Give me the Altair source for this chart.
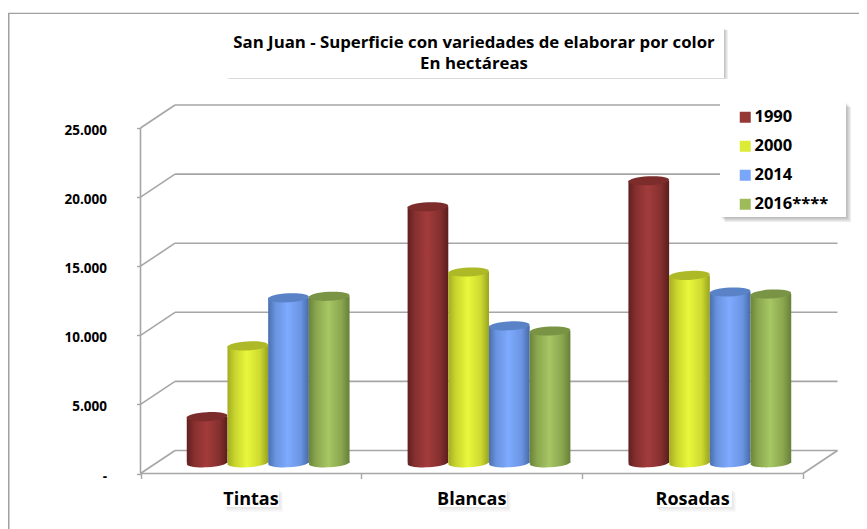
import math
import altair as alt
import pandas as pd

categories = ["Tintas", "Blancas", "Rosadas"]
years = ["1990", "2000", "2014", "2016****"]
v1990 = [3280, 18470, 20350]
v2000 = [8400, 13750, 13500]
v2014 = [11880, 9850, 12300]
v2016 = [11990, 9480, 12150]
grid_values = [0, 5000, 10000, 15000, 20000, 25000]
flat_colors = ["#953735", "#DCEB36", "#7AA6FA", "#9EBB59"]
top_colors = ["#7b2c2b", "#aeb927", "#5a83c7", "#7a9445"]
shades = [
    ["#5f1f1e", "#85302f", "#a33b3b", "#85302f", "#5a1d1c"],
    ["#a3ad22", "#c8d42e", "#e8f83b", "#cdd930", "#98a31f"],
    ["#4a6fae", "#6a94e0", "#7eaaff", "#6b95e2", "#476aa8"],
    ["#6b8439", "#8aa64e", "#a6c764", "#8aa64e", "#66803a"],
]

W, H = 851, 516
FONT = "Open Sans"
GRAY = "#a6a6a6"
K = 0.01382
DEPTH_X = 34.5 / 220.83
DEPTH_V = 23 / K
MID_X, MID_V = DEPTH_X / 2, DEPTH_V / 2
BAR = 40.7 / 220.83

xs = alt.Scale(domain=[(8 - 140.5) / 220.83, (859 - 140.5) / 220.83], range=[0, W], nice=False, zero=False)
ys = alt.Scale(domain=[(473.5 - 529) / K, (473.5 - 13) / K], range=[H, 0], nice=False, zero=False)
x_axis = alt.Axis(values=[0, 1, 2, 3], labels=False, domain=False, grid=False, ticks=True, tickSize=5,
                  tickColor=GRAY, tickWidth=1.4, offset=-55.5, title=None)
y_axis = alt.Axis(values=grid_values, domain=False, grid=False, ticks=True, tickSize=4, tickColor=GRAY,
                  tickWidth=1.4, offset=-132.5, labelPadding=30, labelFont=FONT, labelFontWeight="bold",
                  labelFontSize=13.5, labelColor="#000000", labelOffset=2.5,
                  labelExpr="datum.value === 0 ? '-' : replace(format(datum.value, ','), ',', '.')", title=None)
X = lambda f: alt.X(f, type="quantitative", scale=xs, axis=x_axis, title=None)
Y = lambda f: alt.Y(f, type="quantitative", scale=ys, axis=y_axis, title=None)


def ellipse_path(ratio=0.22, tilt=3.0):
    a = math.radians(-tilt)
    def p(x, y):
        y = y * ratio
        return f"{x*math.cos(a)-y*math.sin(a):.4f},{x*math.sin(a)+y*math.cos(a):.4f}"
    c = 0.5523
    return (f"M{p(-1,0)} C{p(-1,c)} {p(-c,1)} {p(0,1)} C{p(c,1)} {p(1,c)} {p(1,0)} "
            f"C{p(1,-c)} {p(c,-1)} {p(0,-1)} C{p(-c,-1)} {p(-1,-c)} {p(-1,0)} Z")


PATH = ellipse_path()
ONE = pd.DataFrame({"a": [0]})


def rect(x0, y0, x1, y1, color, opacity=1.0):
    return alt.Chart(ONE).mark_rect(color=color, opacity=opacity).encode(
        x=alt.value(x0 - 8), x2=alt.value(x1 - 8), y=alt.value(y0 - 13), y2=alt.value(y1 - 13))


def box(x0, y0, x1, y1, dx, dy, strength=0.07):
    out = []
    for s in (1.0, 0.75, 0.5, 0.25):
        out.append(rect(x0 + dx * s, y0 + dy * s, x1 + dx * s, y1 + dy * s, "#000000", strength))
    out.append(rect(x0, y0, x1, y1, "#ffffff"))
    return out


layers = []
# frame
layers.append(rect(8, 13, 9.5, 529, "#a0a0a0"))
layers.append(rect(8, 12.7, 859, 14, "#a0a0a0"))

grid = pd.DataFrame({"v": grid_values})
grid = grid.assign(vb=grid.v + DEPTH_V, x0=0.0, x1=DEPTH_X, x2=3 + DEPTH_X)
line = dict(color=GRAY, strokeWidth=1.6)
layers.append(alt.Chart(grid).mark_rule(**line).encode(
    x=X("x1"), x2="x2", y=Y("vb")))
layers.append(alt.Chart(grid).mark_rule(**line).encode(
    x=X("x0"), x2="x1", y=Y("v"), y2="vb"))
layers.append(alt.Chart(pd.DataFrame({"x": [0.0], "a": [0], "b": [25000]})).mark_rule(**line).encode(
    x=X("x"), y=Y("a"), y2="b"))
layers.append(alt.Chart(pd.DataFrame({"x": [0.0], "x2": [3.0], "a": [0]})).mark_rule(**line).encode(
    x=X("x"), x2="x2", y=Y("a")))
layers.append(alt.Chart(pd.DataFrame({"x": [3.0], "x2": [3 + DEPTH_X], "a": [0], "b": [DEPTH_V]})).mark_rule(**line).encode(
    x=X("x"), x2="x2", y=Y("a"), y2="b"))

# white panels behind title, legend and category names
layers += box(225, 29, 724, 78, 4, 1, 0.06)
layers += box(720, 102, 846, 217, 5, 5, 0.07)
layers += box(223, 488, 279, 507, 4, 5, 0.025)
layers += box(436, 488, 507, 507, 4, 5, 0.025)
layers += box(655, 488, 732, 507, 4, 5, 0.025)

# cylinders
series = [v1990, v2000, v2014, v2016]
for g, cat in enumerate(categories):
    for s, year in enumerate(years):
        center = g + 0.5 + MID_X + (s - 1.5) * BAR
        d = pd.DataFrame({"c": [center], "l": [center - BAR / 2], "r": [center + BAR / 2],
                          "base": [MID_V - 60], "top": [series[s][g] + MID_V],
                          "value": [series[s][g]], "year": [year], "cat": [cat]})
        stops = [alt.GradientStop(offset=o, color=c) for o, c in zip([0, 0.18, 0.48, 0.8, 1], shades[s])]
        grad = alt.Gradient(gradient="linear", stops=stops, x1=0, x2=1, y1=0, y2=0)
        size = 40.7 ** 2
        layers.append(alt.Chart(d).mark_point(shape=PATH, size=size, filled=True, fill=grad, opacity=1, strokeWidth=0).encode(
            x=X("c"), y=Y("base")))
        layers.append(alt.Chart(d).mark_rect(fill=grad, strokeWidth=0).encode(
            x=X("l"), x2="r", y=Y("base"), y2="top"))
        layers.append(alt.Chart(d).mark_point(shape=PATH, size=size, filled=True, fill=top_colors[s], opacity=1, strokeWidth=0).encode(
            x=X("c"), y=Y("top")))

# category names
cat_df = pd.DataFrame({"cat": categories, "x": [0.5, 1.5, 2.5], "y": [(473.5 - 499.5) / K] * 3})
layers.append(alt.Chart(cat_df).mark_text(font=FONT, fontWeight="bold", fontSize=18, color="#000000").encode(
    x=X("x"), y=Y("y"), text="cat:N"))

# legend
leg_df = pd.DataFrame({"year": years, "x": [0.0] * 4, "v": [0] * 4})
layers.append(alt.Chart(leg_df).mark_square(size=0, opacity=1).encode(
    x=X("x"), y=Y("v"),
    color=alt.Color("year:N", scale=alt.Scale(domain=years, range=flat_colors), legend=alt.Legend(
        title=None, orient="none", legendX=737 - 8, legendY=109 - 13, padding=0,
        symbolType="square", symbolSize=121, symbolStrokeWidth=0, symbolOpacity=1,
        labelFont=FONT, labelFontWeight="bold", labelFontSize=16.5, labelColor="#000000",
        labelOffset=1, rowPadding=12, labelLimit=200))))

chart = alt.layer(*layers).properties(
    width=W, height=H,
    padding={"left": 0, "top": 5, "right": 0, "bottom": 0},
    autosize=alt.AutoSizeParams(type="none"),
    background="white",
    title=alt.TitleParams(
        text=["San Juan - Superficie con variedades de elaborar por color", "En hectáreas"],
        font=FONT, fontWeight="bold", fontSize=16.8, lineHeight=21, color="#000000",
        anchor="start", align="center", dx=466, dy=60, offset=0),
).configure_view(stroke=None)

chart.save("out.html", embed_options={"renderer": "svg", "actions": False})
